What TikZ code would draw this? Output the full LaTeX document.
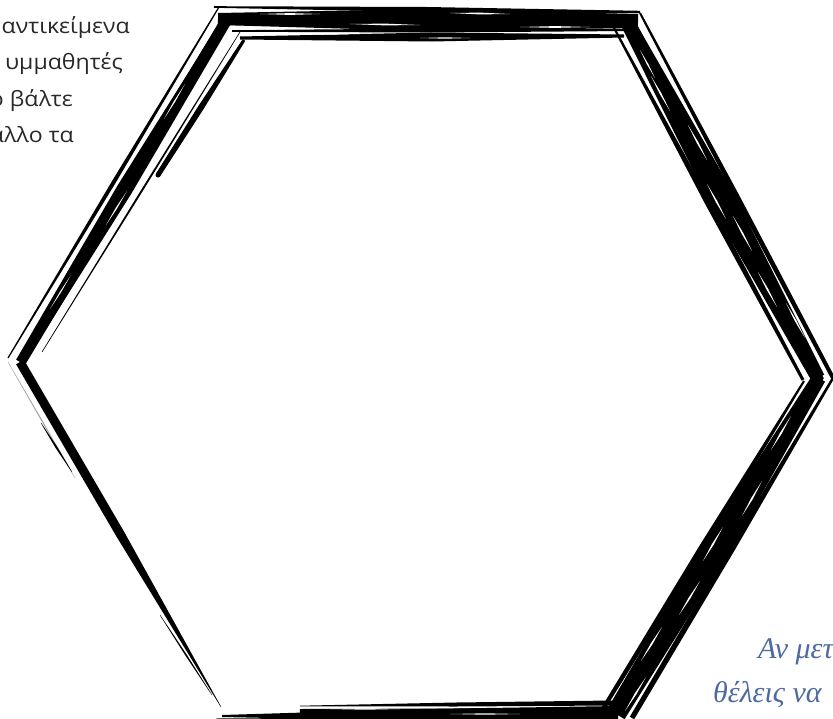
\documentclass[tikz,border=0pt]{standalone}
\usepackage{fontspec}
\usetikzlibrary{calc}
\newfontfamily\txtfont[FakeStretch=1.1]{Open Sans}
\newfontfamily\handfont{Liberation Serif}
\definecolor{txtgray}{RGB}{40,40,40}
\definecolor{handblue}{RGB}{78,106,158}
% tapered brush segment: colour, A, B, half-width at A, middle, B
\newcommand\bseg[6]{%
  \coordinate (bA) at (#2);
  \coordinate (bB) at (#3);
  \coordinate (bM) at ($(bA)!.5!(bB)$);
  \fill[#1] ($(bA)!#4!90:(bB)$) -- ($(bM)!#5!90:(bB)$) -- ($(bB)!#6!-90:(bA)$)
    -- ($(bB)!#6!90:(bA)$) -- ($(bM)!#5!-90:(bB)$) -- ($(bA)!#4!-90:(bB)$) -- cycle;}
% short white dry-brush streak
\newcommand\streak[3][0.9pt]{\bseg{white}{#2}{#3}{0pt}{#1}{0pt}}
\tikzset{
  ring/.style={line width=10pt, line join=miter, miter limit=12},
  greektext/.style={anchor=base east, inner sep=0pt, text=txtgray, font=\txtfont\fontsize{21}{21}\selectfont},
  handtext/.style={anchor=base west, inner sep=0pt, text=handblue, font=\handfont\itshape\fontsize{30}{30}\selectfont}
}
\begin{document}
\begin{tikzpicture}[x=1pt,y=-1pt]
\useasboundingbox (0,0) rectangle (833,718);
\clip (0,0) rectangle (833,718);
\fill[white] (0,0) rectangle (833,718);

% ---- corner points of the main ring
\coordinate (TL) at (226,20);
\coordinate (TR) at (630,22);
\coordinate (R)  at (818,378);
\coordinate (BR) at (612,713);
\coordinate (L)  at (21,362);
\coordinate (Bs) at (300,714);
\draw[ring] (Bs) -- (BR) -- (R) -- (TR) -- (TL) -- (L);

% ---- top edge
\bseg{black}{218,19}{638,21}{6pt}{11pt}{7pt}
\bseg{black}{214,7}{640,12}{0.8pt}{2.5pt}{1.2pt}
\bseg{black}{240,38}{624,36}{1.5pt}{4.5pt}{1.5pt}
\bseg{black}{232,31}{630,30}{0.8pt}{2pt}{1pt}
\streak{260,14}{320,14}
\streak{350,24}{420,25}
\streak{450,13}{510,14}
\streak{520,27}{590,27}
\streak[0.7pt]{300,34}{360,34}
\streak[0.7pt]{420,38}{470,38}

% ---- right upper edge
\bseg{black}{626,20}{818,378}{7pt}{13pt}{7pt}
\bseg{black}{640,13}{833,378}{1pt}{2.5pt}{2pt}
\bseg{black}{613,26}{803,380}{1pt}{3pt}{1.5pt}
\streak{651,76}{670,111}
\streak{688,125}{707,160}
\streak{707,184}{726,219}
\streak{733,216}{752,251}
\streak{758,272}{777,307}
\streak{786,303}{805,338}
\streak[0.7pt]{640,50}{655,78}

% ---- right lower edge
\bseg{black}{819,378}{616,714}{7pt}{13pt}{10pt}
\bseg{black}{833,378}{632,718}{1.2pt}{3pt}{2.5pt}
\bseg{black}{804,381}{601,712}{1pt}{3pt}{2pt}
\streak{791,416}{771,450}
\streak{762,481}{742,516}
\streak{723,527}{703,561}
\streak{700,581}{679,615}
\streak{662,627}{641,661}
\streak{646,677}{625,711}

% ---- bottom edge
\bseg{black}{222,716}{618,714}{1pt}{6pt}{8pt}
\bseg{black}{300,706}{612,703}{0.3pt}{2pt}{2.5pt}
\bseg{black}{216,719}{560,720}{0.5pt}{2pt}{1pt}
\streak[0.7pt]{330,709}{400,709}
\streak[0.7pt]{450,714}{520,714}

% ---- left lower edge
\bseg{black}{20,362}{221,707}{4.5pt}{4.5pt}{0.2pt}
\bseg{gray!70}{8,362}{75,478}{0.2pt}{0.6pt}{0.2pt}
\bseg{black}{41,423}{72,472}{0.2pt}{1pt}{0.2pt}
\bseg{black}{160,615}{212,695}{0.2pt}{0.8pt}{0.2pt}

% ---- left upper edge
\bseg{black}{229,17}{20,362}{5pt}{8pt}{4.5pt}
\bseg{black}{219,7}{8,358}{0.6pt}{2pt}{0.6pt}
\bseg{black}{244,40}{158,175}{1.5pt}{3pt}{2.5pt}
\fill (158,175) circle (2.5pt);
\bseg{black}{240,32}{42,352}{0.3pt}{1pt}{0.3pt}
\streak[0.7pt]{185,84}{164,119}
\streak[0.7pt]{127,191}{106,225}
\streak[0.6pt]{71,275}{50,309}

% ---- texts
\node[greektext] (t1) at (130,33) {αντικείμενα};
\node[greektext] (t2) at (123,69) {υμμαθητές};
\node[greektext] (t3) at (73,106) {στο βάλτε};
\node[greektext] (t4) at (74,142) {άλλο τα};
\node[handtext] (h1) at (758,658) {Αν μετά};
\node[handtext] (h2) at (713,702) {θέλεις να};
\end{tikzpicture}
\end{document}
